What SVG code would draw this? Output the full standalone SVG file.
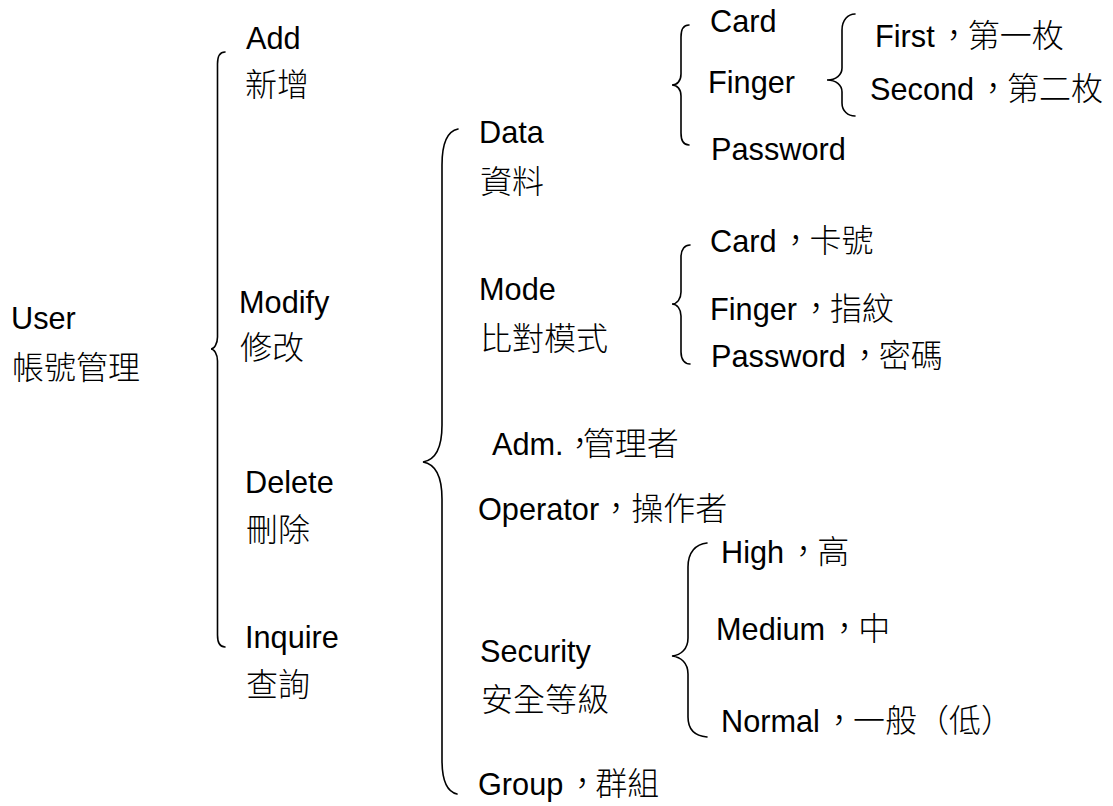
<svg xmlns="http://www.w3.org/2000/svg" width="1113" height="806" viewBox="0 0 1113 806">
<style>
text { font-family: "Liberation Sans", "Noto Sans CJK TC", sans-serif; font-size: 30.7px; fill: #000; }
.cjk { font-family: "Noto Sans CJK TC", "Liberation Sans", sans-serif; font-weight: 300; font-size: 32px; }
.brace { fill: none; stroke: #000; stroke-width: 1.6; stroke-linecap: round; }
</style>
<rect width="1113" height="806" fill="#fff"/>
<g id="connectors">
<path class="brace" d="M225,52 C220,52 217.5,56 217.5,64 L217.5,337 C217.5,344 214,349 211,349 C214,349 217.5,354 217.5,361 L217.5,635 C217.5,643 220,647 225,647"/>
<path class="brace" d="M458,129 C448,131 442,142 442,165 L442,425 C442,448 435,460 423,462 C435,464 442,476 442,499 L442,760 C442,782 448,792 457,794"/>
<path class="brace" d="M689,25 C684,25 681,29 681,37 L681,74 C681,81 677,85 672,85 C677,85 681,89 681,96 L681,133 C681,141 684,145 689,145"/>
<path class="brace" d="M855,14 C848,14 842,20 842,30 L842,68 C842,75 836,80 827,80 C836,80 842,85 842,92 L842,103 C842,111 848,116 855,116"/>
<path class="brace" d="M690,245 C685,245 681,249 681,257 L681,292 C681,299 677,304 672,304 C677,304 681,309 681,316 L681,352 C681,360 685,364 690,364"/>
<path class="brace" d="M707,543 C696,544 688,552 688,567 L688,638 C688,649 681,655 672,656 C681,657 688,663 688,674 L688,717 C688,730 696,736 707,737"/>
</g>
<g id="user"><text x="11" y="329">User</text><text class="cjk" x="12" y="379">帳號管理</text></g>
<g id="add"><text x="246" y="49">Add</text><text class="cjk" x="245" y="96">新增</text></g>
<g id="modify"><text x="239" y="313">Modify</text><text class="cjk" x="240" y="359">修改</text></g>
<g id="delete"><text x="245" y="493">Delete</text><text class="cjk" x="246" y="541">刪除</text></g>
<g id="inquire"><text x="245" y="648">Inquire</text><text class="cjk" x="246" y="696">查詢</text></g>
<g id="data"><text x="479" y="143">Data</text><text class="cjk" x="480" y="193">資料</text></g>
<g id="mode"><text x="479" y="300">Mode</text><text class="cjk" x="480" y="350">比對模式</text></g>
<g id="adm"><text x="492" y="455">Adm.<tspan class="cjk" dx="0 -13">，管理者</tspan></text></g>
<g id="operator"><text x="478" y="520">Operator<tspan class="cjk" dx="1 -1">，操作者</tspan></text></g>
<g id="security"><text x="480" y="662">Security</text><text class="cjk" x="481" y="711">安全等級</text></g>
<g id="group"><text x="478" y="795">Group<tspan class="cjk" dx="3 -3">，群組</tspan></text></g>
<g id="data-card"><text x="710" y="32">Card</text></g>
<g id="data-finger"><text x="708" y="93">Finger</text></g>
<g id="data-password"><text x="711" y="160">Password</text></g>
<g id="first"><text x="875" y="47">First<tspan class="cjk" dx="3 -2">，第一枚</tspan></text></g>
<g id="second"><text x="870" y="100">Second<tspan class="cjk" dx="3 -2">，第二枚</tspan></text></g>
<g id="mode-card"><text x="710" y="252">Card<tspan class="cjk" dx="3 -2">，卡號</tspan></text></g>
<g id="mode-finger"><text x="710" y="320">Finger<tspan class="cjk" dx="3 -2">，指紋</tspan></text></g>
<g id="mode-password"><text x="711" y="367">Password<tspan class="cjk" dx="3 -2">，密碼</tspan></text></g>
<g id="high"><text x="721" y="563">High<tspan class="cjk" dx="3 -2">，高</tspan></text></g>
<g id="medium"><text x="716" y="640">Medium<tspan class="cjk" dx="3 -2">，中</tspan></text></g>
<g id="normal"><text x="721" y="732">Normal<tspan class="cjk" dx="3 -2">，一般（低）</tspan></text></g>
</svg>
